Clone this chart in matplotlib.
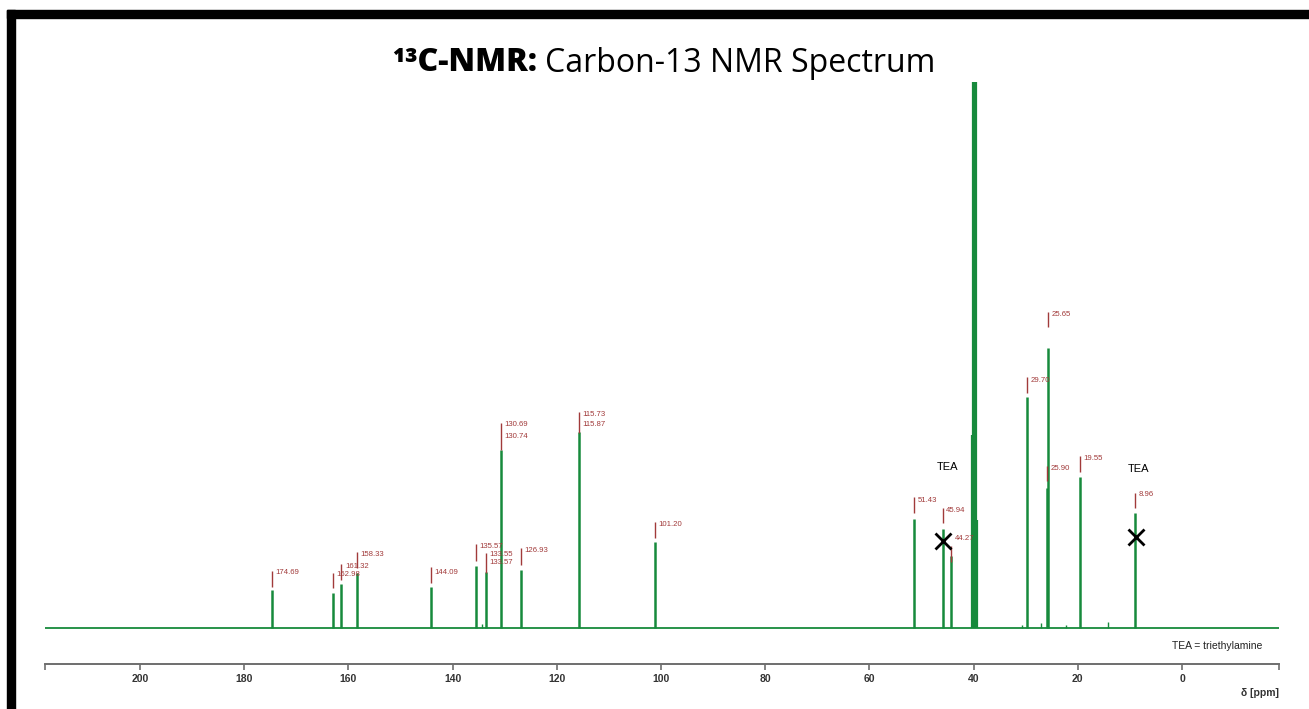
import matplotlib
matplotlib.use("Agg")
import matplotlib.pyplot as plt
from matplotlib.patches import Rectangle

# ---------------- data ----------------
# peak positions (ppm) and relative intensities (arbitrary units)
peak_ppm = [174.69, 162.98, 161.32, 158.33, 144.09, 135.57, 133.56, 130.72,
            126.93, 115.80, 101.20, 51.43, 45.94, 44.27, 29.70, 25.90, 25.65,
            19.55, 8.96]
peak_int = [38, 35, 44, 55, 41, 62, 56, 178, 58, 196, 86, 109, 99, 72,
            231, 140, 280, 151, 115]

# DMSO-d6 solvent multiplet (clipped at top of plot)
solvent_ppm = [40.35, 40.15, 39.95, 39.75, 39.55, 39.35]
solvent_int = [193, 2000, 2000, 2000, 2000, 108]

# small impurity signals
minor_ppm = [134.4, 27.0, 22.3, 14.2, 30.8]
minor_int = [4, 5, 3, 6, 3]

# peak-pick marker lines: ppm, lower, upper intensity
mark_ppm = [174.69, 162.98, 161.32, 158.33, 144.09, 135.57, 133.56, 130.72,
            126.93, 115.80, 101.20, 51.43, 45.94, 44.27, 29.70, 25.65, 25.90,
            19.55, 8.96]
mark_lo = [41, 40, 48, 60, 45, 67, 55, 178, 63, 195, 90, 115, 105, 66,
           235, 301, 147, 156, 120]
mark_hi = [57, 55, 64, 76, 61, 84, 75, 205, 80, 216, 106, 131, 120, 82,
           251, 316, 162, 172, 135]

# peak-pick labels: text, ppm of its marker, intensity of text centre
label_text = ["174.69", "162.98", "161.32", "158.33", "144.09", "135.57",
              "133.55", "133.57", "130.69", "130.74", "126.93", "115.73",
              "115.87", "101.20", "51.43", "45.94", "44.27", "29.70",
              "25.65", "25.90", "19.55", "8.96"]
label_ppm = [174.69, 162.98, 161.32, 158.33, 144.09, 135.57, 133.56, 133.56,
             130.72, 130.72, 126.93, 115.80, 115.80, 101.20, 51.43, 45.94,
             44.27, 29.70, 25.65, 25.90, 19.55, 8.96]
label_int = [55, 53, 61, 73, 56, 81, 73, 66, 203, 191, 77, 214, 204, 103,
             128, 118, 89, 248, 314, 160, 169, 133]

# triethylamine signals
tea_ppm = [45.94, 8.90]
tea_mark_int = [87, 91]
tea_text_ppm = [45.0, 8.3]
tea_text_int = [161, 159]

xticks = [200, 180, 160, 140, 120, 100, 80, 60, 40, 20, 0]
x_left, x_right = 218.2, -18.6
y_bottom, y_top = -36, 546

GREEN = "#178a3c"
RED = "#a13a3a"

# ---------------- figure ----------------
W, H = 1309, 709
fig = plt.figure(figsize=(W / 100, H / 100), dpi=100)
fig.patch.set_facecolor("white")

# black frame bars
fig.patches.append(Rectangle((7 / W, 0), 8 / W, 1 - 10 / H,
                             transform=fig.transFigure, color="black", zorder=0))
fig.patches.append(Rectangle((7 / W, 1 - 18 / H), 1 - 7 / W, 8 / H,
                             transform=fig.transFigure, color="black", zorder=0))

ax = fig.add_axes([45 / W, 1 - 664 / H, (1279 - 45) / W, 582 / H])
ax.set_xlim(x_left, x_right)
ax.set_ylim(y_bottom, y_top)
ax.set_facecolor("none")

for s in ["top", "left", "right"]:
    ax.spines[s].set_visible(False)
ax.spines["bottom"].set_color("#6e6e6e")
ax.spines["bottom"].set_linewidth(1.4)
ax.set_yticks([])

ax.set_xticks(xticks)
ax.set_xticklabels([str(t) for t in xticks])
ax.set_xticks([x_left, x_right], minor=True)
ax.tick_params(axis="x", which="both", direction="out", length=4, width=1.2,
               color="#6e6e6e", pad=3)
for lab in ax.get_xticklabels():
    lab.set_fontfamily("Liberation Sans")
    lab.set_fontweight("bold")
    lab.set_fontsize(7.5)
    lab.set_color("#333333")

# spectrum
ax.axhline(0, color=GREEN, lw=1.3, zorder=2)
ax.vlines(peak_ppm, 0, peak_int, color=GREEN, lw=1.8, zorder=3)
ax.vlines(solvent_ppm, 0, solvent_int, color=GREEN, lw=1.6, zorder=3)
ax.vlines(minor_ppm, 0, minor_int, color=GREEN, lw=1.0, zorder=3)

# peak-pick annotations
ax.vlines(mark_ppm, mark_lo, mark_hi, color=RED, lw=1.0, zorder=4)
for t, p, yv in zip(label_text, label_ppm, label_int):
    ax.annotate(t, xy=(p, yv), xytext=(2.5, 0), textcoords="offset points",
                ha="left", va="center", fontsize=5.6, color=RED,
                family="Liberation Sans", zorder=5)

# TEA markers
ax.plot(tea_ppm, tea_mark_int, linestyle="none", marker="x", markersize=12,
        markeredgewidth=2, color="black", zorder=6)
for p, yv in zip(tea_text_ppm, tea_text_int):
    ax.text(p, yv, "TEA", ha="center", va="center", fontsize=8,
            family="Liberation Sans", color="black")

ax.text(-15.4, -18, "TEA = triethylamine", ha="right", va="center",
        fontsize=7.5, family="Liberation Sans", color="#222222")

fig.text(1279 / W, 1 - 693 / H, "δ [ppm]", ha="right", va="center",
         fontsize=7.5, fontweight="bold", family="Liberation Sans",
         color="#333333")

# title in two styles
renderer = fig.canvas.get_renderer()
ty = 1 - 63 / H
t1 = fig.text(0, ty, "¹³C-NMR:", ha="left", va="center", fontsize=23,
              fontweight="heavy", family="Open Sans", color="black")
t2 = fig.text(0, ty, "Carbon-13 NMR Spectrum", ha="left", va="center",
              fontsize=23, family="Open Sans", color="black")
w1 = t1.get_window_extent(renderer).width
w2 = t2.get_window_extent(renderer).width
gap = 8
total = w1 + gap + w2
x0 = 663.5 - total / 2
t1.set_x(x0 / W)
t2.set_x((x0 + w1 + gap) / W)

fig.savefig("out.png", dpi=100, facecolor="white")
